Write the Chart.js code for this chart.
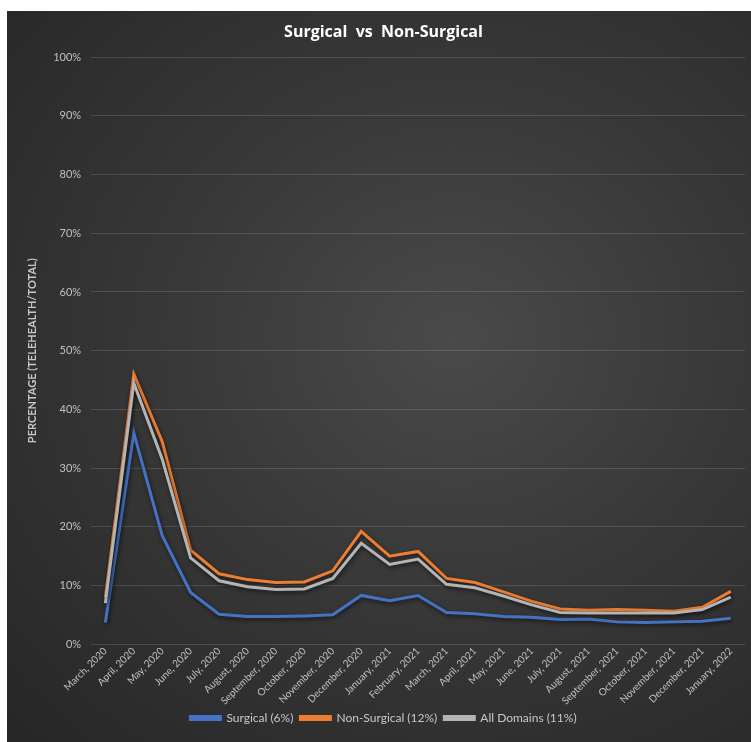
<!DOCTYPE html>
<html>
<head>
<meta charset="utf-8">
<script src="https://cdn.jsdelivr.net/npm/chart.js@4"></script>
<style>
  body { margin: 0; background: #fff; }
  #wrap {
    position: absolute; left: 7px; top: 11px; width: 744px; height: 731px;
    background: radial-gradient(ellipse at 60% 45%, #4a4a4a 0%, #383838 45%, #262626 100%);
  }
</style>
</head>
<body>
<div id="wrap"><canvas id="myChart" width="744" height="731"></canvas></div>
<script>
// months shown on the x axis
const months = [
  "March, 2020", "April, 2020", "May, 2020", "June, 2020", "July, 2020", "August, 2020",
  "September, 2020", "October, 2020", "November, 2020", "December, 2020",
  "January, 2021", "February, 2021", "March, 2021", "April, 2021", "May, 2021",
  "June, 2021", "July, 2021", "August, 2021", "September, 2021", "October, 2021",
  "November, 2021", "December, 2021", "January, 2022"
];

// percentages
const surgical = [3.7, 36, 18.5, 8.8, 5.1, 4.7, 4.7, 4.8, 5.0, 8.3, 7.4, 8.3,
  5.4, 5.2, 4.7, 4.6, 4.2, 4.3, 3.8, 3.7, 3.8, 3.9, 4.4];
const nonSurgical = [8, 46, 34.5, 16, 12, 11, 10.5, 10.6, 12.5, 19.2, 15, 15.8,
  11.2, 10.5, 8.9, 7.3, 6, 5.8, 5.9, 5.8, 5.6, 6.3, 9.0];
const allDomains = [7, 44.5, 31.5, 14.7, 10.8, 9.8, 9.3, 9.4, 11.2, 17.2, 13.6, 14.5,
  10.2, 9.6, 8.2, 6.7, 5.4, 5.3, 5.3, 5.3, 5.3, 5.9, 8.0];

const seriesNames = ["Surgical (6%)", "Non-Surgical (12%)", "All Domains (11%)"];
const lineColors = ["#4472C4", "#ED7D31", "#B4B4B4"];

const shadow = {
  id: "shadow",
  beforeDatasetsDraw(chart) {
    const ctx = chart.ctx;
    ctx.save();
    ctx.shadowColor = "rgba(0,0,0,0.6)";
    ctx.shadowBlur = 4;
    ctx.shadowOffsetX = 1;
    ctx.shadowOffsetY = 2;
  },
  afterDatasetsDraw(chart) {
    chart.ctx.restore();
  }
};

const values = [surgical, nonSurgical, allDomains];

new Chart("myChart", {
  type: "line",
  data: {
    labels: months,
    datasets: values.map((v, i) => ({
      label: seriesNames[i],
      data: v,
      borderColor: lineColors[i],
      backgroundColor: lineColors[i],
      borderWidth: 3,
      pointRadius: 0,
      tension: 0,
      order: 3 - i
    }))
  },
  options: {
    responsive: false,
    animation: false,
    layout: { padding: { left: 15, right: 6, top: 8, bottom: 8 } },
    plugins: {
      title: {
        display: true,
        text: "Surgical  vs  Non-Surgical",
        color: "#ffffff",
        font: { family: "Open Sans", size: 16, weight: "bold" },
        padding: { top: 4, bottom: 15 }
      },
      legend: {
        position: "bottom",
        labels: {
          color: "#c8c8c8",
          font: { family: "Lato", size: 12 },
          boxWidth: 30,
          boxHeight: 3,
          padding: 7,
          sort: (a, b) => a.datasetIndex - b.datasetIndex
        }
      },
      tooltip: { enabled: false }
    },
    scales: {
      x: {
        offset: true,
        grid: { display: false, drawTicks: false },
        border: { display: false },
        afterFit: s => { s.height -= 3; },
        ticks: {
          color: "#c0c0c0",
          font: { family: "Lato", size: 10 },
          minRotation: 45,
          maxRotation: 45,
          autoSkip: false,
          padding: 1
        }
      },
      y: {
        min: 0,
        max: 100,
        grid: { color: "rgba(255,255,255,0.13)", drawTicks: false },
        border: { display: false },
        ticks: {
          stepSize: 10,
          color: "#c0c0c0",
          font: { family: "Lato", size: 11 },
          callback: v => v + "%",
          padding: 10
        },
        title: {
          display: true,
          text: "PERCENTAGE (TELEHEALTH/TOTAL)",
          color: "#c8c8c8",
          font: { family: "Lato", size: 11, weight: "bold" }
        }
      }
    }
  },
  plugins: [shadow]
});
</script>
</body>
</html>
